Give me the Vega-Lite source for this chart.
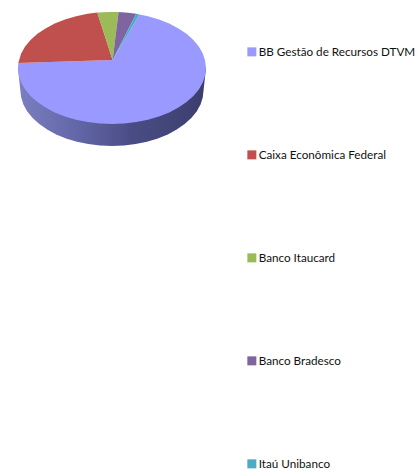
{"$schema":"https://vega.github.io/schema/vega-lite/v6.json","width":419,"height":470,"padding":0,"autosize":{"type":"none"},"background":"white","config":{"view":{"stroke":null}},
"datasets":{"wall":[{"i":0,"x":-1,"y":0},{"i":1,"x":-0.975,"y":-0.234},{"i":2,"x":-0.966,"y":-0.312},{"i":3,"x":-0.942,"y":-0.388},{"i":4,"x":-0.901,"y":-0.462},{"i":5,"x":-0.844,"y":-0.532},{"i":6,"x":-0.773,"y":-0.597},{"i":7,"x":-0.689,"y":-0.655},{"i":8,"x":-0.594,"y":-0.707},{"i":9,"x":-0.488,"y":-0.75},{"i":10,"x":-0.373,"y":-0.785},{"i":11,"x":-0.252,"y":-0.81},{"i":12,"x":-0.128,"y":-0.825},{"i":13,"x":0,"y":-0.83},{"i":14,"x":0.128,"y":-0.825},{"i":15,"x":0.252,"y":-0.81},{"i":16,"x":0.373,"y":-0.785},{"i":17,"x":0.488,"y":-0.75},{"i":18,"x":0.594,"y":-0.707},{"i":19,"x":0.689,"y":-0.655},{"i":20,"x":0.773,"y":-0.597},{"i":21,"x":0.844,"y":-0.532},{"i":22,"x":0.901,"y":-0.462},{"i":23,"x":0.942,"y":-0.388},{"i":24,"x":0.966,"y":-0.312},{"i":25,"x":0.975,"y":-0.234},{"i":26,"x":1,"y":0}],
"top":[
{"s":"BB Gestão de Recursos DTVM","i":0,"x":0.007,"y":0.085},{"s":"BB Gestão de Recursos DTVM","i":1,"x":0.292,"y":0.57},{"s":"BB Gestão de Recursos DTVM","i":2,"x":0.383,"y":0.551},{"s":"BB Gestão de Recursos DTVM","i":3,"x":0.5,"y":0.516},{"s":"BB Gestão de Recursos DTVM","i":4,"x":0.609,"y":0.473},{"s":"BB Gestão de Recursos DTVM","i":5,"x":0.707,"y":0.421},{"s":"BB Gestão de Recursos DTVM","i":6,"x":0.793,"y":0.363},{"s":"BB Gestão de Recursos DTVM","i":7,"x":0.866,"y":0.298},{"s":"BB Gestão de Recursos DTVM","i":8,"x":0.924,"y":0.228},{"s":"BB Gestão de Recursos DTVM","i":9,"x":0.966,"y":0.154},{"s":"BB Gestão de Recursos DTVM","i":10,"x":0.991,"y":0.078},{"s":"BB Gestão de Recursos DTVM","i":11,"x":1,"y":0},{"s":"BB Gestão de Recursos DTVM","i":12,"x":0.991,"y":-0.078},{"s":"BB Gestão de Recursos DTVM","i":13,"x":0.966,"y":-0.154},{"s":"BB Gestão de Recursos DTVM","i":14,"x":0.924,"y":-0.228},{"s":"BB Gestão de Recursos DTVM","i":15,"x":0.866,"y":-0.298},{"s":"BB Gestão de Recursos DTVM","i":16,"x":0.793,"y":-0.363},{"s":"BB Gestão de Recursos DTVM","i":17,"x":0.707,"y":-0.421},{"s":"BB Gestão de Recursos DTVM","i":18,"x":0.609,"y":-0.473},{"s":"BB Gestão de Recursos DTVM","i":19,"x":0.5,"y":-0.516},{"s":"BB Gestão de Recursos DTVM","i":20,"x":0.383,"y":-0.551},{"s":"BB Gestão de Recursos DTVM","i":21,"x":0.259,"y":-0.576},{"s":"BB Gestão de Recursos DTVM","i":22,"x":0.131,"y":-0.591},{"s":"BB Gestão de Recursos DTVM","i":23,"x":0,"y":-0.596},{"s":"BB Gestão de Recursos DTVM","i":24,"x":-0.131,"y":-0.591},{"s":"BB Gestão de Recursos DTVM","i":25,"x":-0.259,"y":-0.576},{"s":"BB Gestão de Recursos DTVM","i":26,"x":-0.383,"y":-0.551},{"s":"BB Gestão de Recursos DTVM","i":27,"x":-0.5,"y":-0.516},{"s":"BB Gestão de Recursos DTVM","i":28,"x":-0.609,"y":-0.473},{"s":"BB Gestão de Recursos DTVM","i":29,"x":-0.707,"y":-0.421},{"s":"BB Gestão de Recursos DTVM","i":30,"x":-0.793,"y":-0.363},{"s":"BB Gestão de Recursos DTVM","i":31,"x":-0.866,"y":-0.298},{"s":"BB Gestão de Recursos DTVM","i":32,"x":-0.924,"y":-0.228},{"s":"BB Gestão de Recursos DTVM","i":33,"x":-0.966,"y":-0.154},{"s":"BB Gestão de Recursos DTVM","i":34,"x":-0.991,"y":-0.078},{"s":"BB Gestão de Recursos DTVM","i":35,"x":-1,"y":0},{"s":"BB Gestão de Recursos DTVM","i":36,"x":-0.996,"y":0.052},
{"s":"Caixa Econômica Federal","i":0,"x":0.007,"y":0.085},{"s":"Caixa Econômica Federal","i":1,"x":-0.996,"y":0.052},{"s":"Caixa Econômica Federal","i":2,"x":-0.966,"y":0.154},{"s":"Caixa Econômica Federal","i":3,"x":-0.924,"y":0.228},{"s":"Caixa Econômica Federal","i":4,"x":-0.866,"y":0.298},{"s":"Caixa Econômica Federal","i":5,"x":-0.793,"y":0.363},{"s":"Caixa Econômica Federal","i":6,"x":-0.707,"y":0.421},{"s":"Caixa Econômica Federal","i":7,"x":-0.609,"y":0.473},{"s":"Caixa Econômica Federal","i":8,"x":-0.5,"y":0.516},{"s":"Caixa Econômica Federal","i":9,"x":-0.383,"y":0.551},{"s":"Caixa Econômica Federal","i":10,"x":-0.259,"y":0.576},{"s":"Caixa Econômica Federal","i":11,"x":-0.156,"y":0.589},
{"s":"Banco Itaucard","i":0,"x":0.007,"y":0.085},{"s":"Banco Itaucard","i":1,"x":-0.156,"y":0.589},{"s":"Banco Itaucard","i":2,"x":-0.035,"y":0.596},{"s":"Banco Itaucard","i":3,"x":0.07,"y":0.595},
{"s":"Banco Bradesco","i":0,"x":0.007,"y":0.085},{"s":"Banco Bradesco","i":1,"x":0.07,"y":0.595},{"s":"Banco Bradesco","i":2,"x":0.174,"y":0.587},{"s":"Banco Bradesco","i":3,"x":0.259,"y":0.576},
{"s":"Itaú Unibanco","i":0,"x":0.007,"y":0.085},{"s":"Itaú Unibanco","i":1,"x":0.259,"y":0.576},{"s":"Itaú Unibanco","i":2,"x":0.292,"y":0.57}]},
"layer":[
{"data":{"name":"wall"},"mark":{"type":"line","strokeWidth":0,"fill":{"gradient":"linear","x1":0,"x2":1,"y1":0,"y2":0,"stops":[{"offset":0,"color":"#7a7fc0"},{"offset":0.3,"color":"#6468a8"},{"offset":0.6,"color":"#4a4d85"},{"offset":1,"color":"#3b3e6c"}]}},
"encoding":{"x":{"field":"x","type":"quantitative","scale":{"domain":[-1.191,3.266],"nice":false,"zero":false},"axis":null},"y":{"field":"y","type":"quantitative","scale":{"domain":[-4.277,0.723],"nice":false,"zero":false},"axis":null},"order":{"field":"i"}}},
{"data":{"name":"top"},"mark":{"type":"line","strokeWidth":0},
"encoding":{"x":{"field":"x","type":"quantitative","scale":{"domain":[-1.191,3.266],"nice":false,"zero":false},"axis":null},"y":{"field":"y","type":"quantitative","scale":{"domain":[-4.277,0.723],"nice":false,"zero":false},"axis":null},"order":{"field":"i"},"detail":{"field":"s"},
"fill":{"field":"s","type":"nominal","sort":null,"scale":{"domain":["BB Gestão de Recursos DTVM","Caixa Econômica Federal","Banco Itaucard","Banco Bradesco","Itaú Unibanco"],"range":["#9999ff","#c0504d","#9bbb59","#8064a2","#4bacc6"]},
"legend":{"title":null,"orient":"none","legendX":246,"legendY":46,"symbolType":"square","symbolSize":81,"symbolStrokeWidth":0,"symbolOpacity":1,"labelFont":"Lato","labelFontSize":11.7,"labelColor":"#111111","labelOffset":1,"rowPadding":90,"labelLimit":200}}}}
]}
